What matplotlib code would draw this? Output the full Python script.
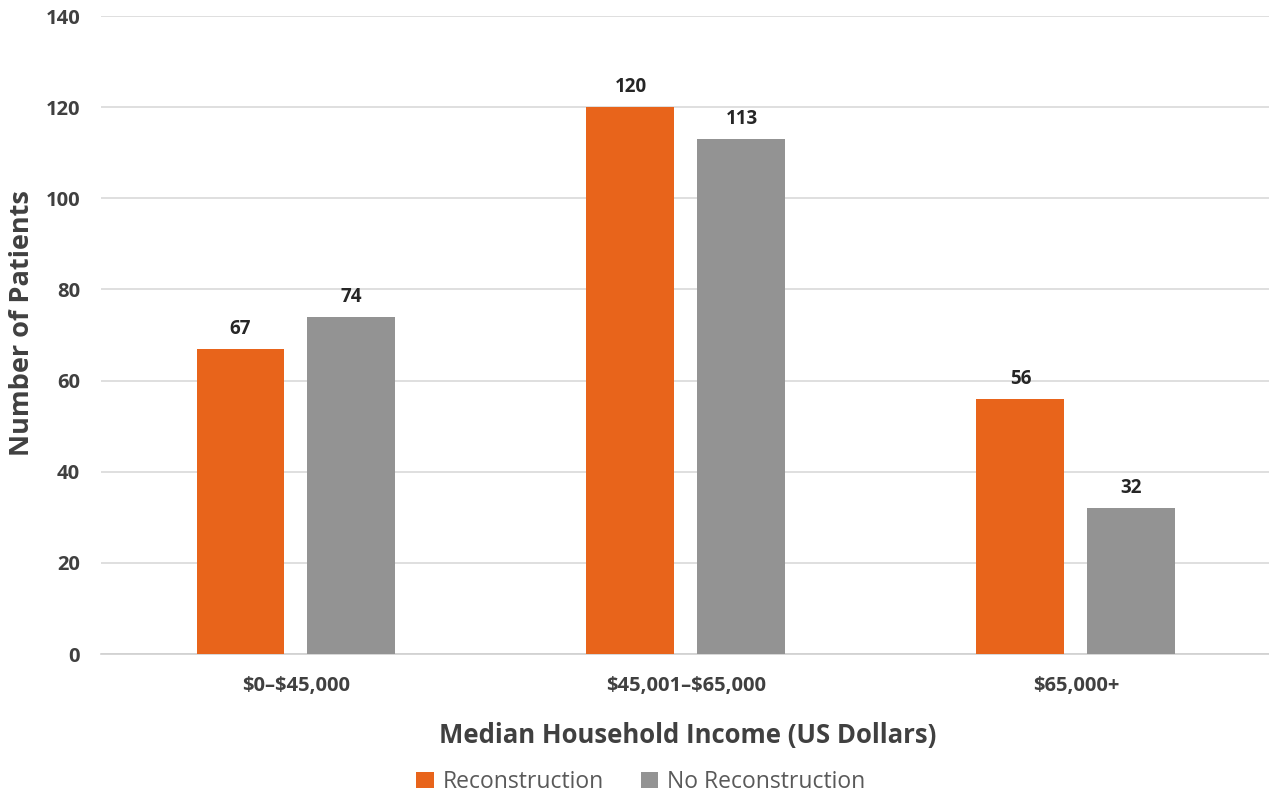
import numpy as np
import matplotlib.pyplot as plt

plt.rcParams['font.family'] = ['Open Sans', 'DejaVu Sans']
plt.rcParams['text.parse_math'] = False

categories = ['$0–$45,000', '$45,001–$65,000', '$65,000+']
reconstruction = [67, 120, 56]
no_reconstruction = [74, 113, 32]

orange = '#E8641B'
gray = '#939393'
text_col = '#404040'

fig = plt.figure(figsize=(12.69, 7.94), dpi=100)
ax = fig.add_axes([101 / 1269, 1 - 654 / 794, 1 - 101 / 1269, 638 / 794])

x = np.arange(len(categories))
w = 0.2256
off = 0.1423
b1 = ax.bar(x - off, reconstruction, w, color=orange, label='Reconstruction', zorder=3)
b2 = ax.bar(x + off, no_reconstruction, w, color=gray, label='No Reconstruction', zorder=3)

for bars in (b1, b2):
    for b in bars:
        ax.annotate(f'{int(b.get_height())}', (b.get_x() + b.get_width() / 2, b.get_height()),
                    xytext=(0, 7), textcoords='offset points', ha='center', va='bottom',
                    fontsize=13.5, fontweight='bold', color='#262626')

ax.set_ylim(0, 140)
ax.set_xlim(-0.5, 2.495)
ax.set_yticks(range(0, 141, 20))
ax.set_xticks(x)
ax.set_xticklabels(categories)
ax.yaxis.grid(True, color='#D9D9D9', linewidth=1.2, zorder=0)
ax.set_axisbelow(True)
for s in ['top', 'right', 'left']:
    ax.spines[s].set_visible(False)
ax.spines['bottom'].set_color('#D0D0D0')
ax.spines['bottom'].set_linewidth(1.2)
ax.tick_params(axis='both', length=0, labelsize=14.5, labelcolor=text_col)
ax.tick_params(axis='y', pad=15)
ax.tick_params(axis='x', pad=16)
for lbl in ax.get_xticklabels() + ax.get_yticklabels():
    lbl.set_fontweight('bold')

ax.set_ylabel('Number of Patients', fontsize=19.5, fontweight='bold', color=text_col)
ax.yaxis.set_label_coords(-0.0565, 0.518)
ax.set_xlabel('Median Household Income (US Dollars)', fontsize=18.5, fontweight='bold', color=text_col)
ax.xaxis.set_label_coords(0.502, -0.107)

fig.legend(handles=[b1, b2], loc='center', bbox_to_anchor=(0.505, 0.015), ncol=2, frameon=False,
           fontsize=16.5, labelcolor='#595959', handlelength=0.75, handleheight=0.75,
           handletextpad=0.4, columnspacing=1.6)

fig.savefig('out.png', dpi=100)
